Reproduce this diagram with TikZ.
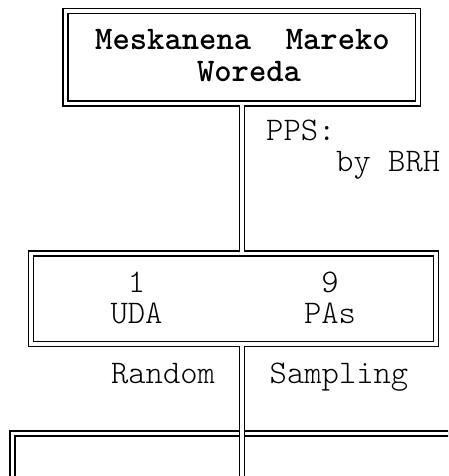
\documentclass[tikz,border=0pt]{standalone}
\usepackage{fontspec}
\setmonofont{Latin Modern Mono Light}
\begin{document}
\begin{tikzpicture}[x=1pt,y=-1pt,
  dbl/.style={draw=black,double=white,double distance=3.7pt,line width=1.3pt},
  boxnode/.style={dbl,rectangle,inner sep=0pt,outer sep=0pt,anchor=north west},
  txt/.style={inner sep=0pt,anchor=base,font=\ttfamily\fontsize{33}{36}\selectfont},
  btxt/.style={txt,font=\ttfamily\bfseries\fontsize{33}{36}\selectfont}]
\useasboundingbox (0,0) rectangle (448,476);
\clip (0,0) rectangle (448,476);
% boxes (border path at the middle of the double line)
\node[boxnode,minimum width=352.5pt,minimum height=92.5pt] (top) at (65.5,11) {};
\node[boxnode,minimum width=405pt,minimum height=90.5pt] (mid) at (30.8,253.5) {};
\node[boxnode,minimum width=229.8pt,minimum height=90pt] (bl) at (12.5,433.5) {};
\node[boxnode,minimum width=240pt,minimum height=90pt] (br) at (242.3,433.5) {};
\coordinate (cx) at (242.3,0);
\coordinate (bend) at (242.3,520);
% connectors
\draw[dbl] ([yshift=-1.85pt]top.south -| cx) -- ([yshift=1.85pt]mid.north -| cx);
\draw[dbl] ([yshift=-1.85pt]mid.south -| cx) -- (bend);
% texts
\node[btxt] (t1) at (242.5,50) {Meskanena\ \ Mareko};
\node[btxt] (t2) at (249,82) {Woreda};
\node[txt,anchor=base west] (pps) at (266,140) {PPS:};
\node[txt,anchor=base west] (by) at (336,171) {by BRH};
\node[txt] (n1) at (136.5,292) {1};
\node[txt] (uda) at (136.5,323) {UDA};
\node[txt] (n9) at (330,292) {9};
\node[txt] (pas) at (330,323) {PAs};
\node[txt] (rnd) at (163,383) {Random};
\node[txt] (smp) at (339,383) {Sampling};
\end{tikzpicture}
\end{document}
